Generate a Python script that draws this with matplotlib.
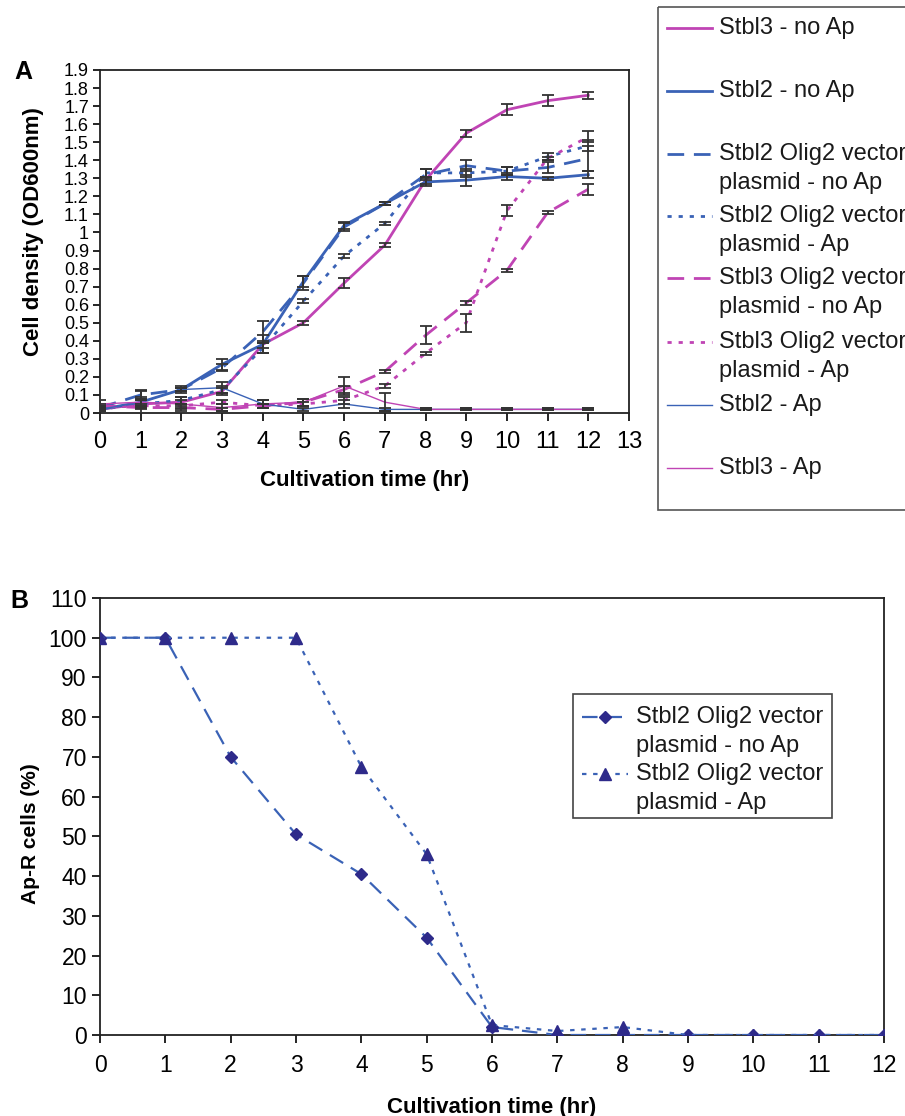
import numpy as np
import matplotlib
matplotlib.use("Agg")
import matplotlib.pyplot as plt
from matplotlib.patches import Rectangle
from matplotlib.lines import Line2D

plt.rcParams['font.family'] = ['Liberation Sans', 'DejaVu Sans']

# ---- data, panel A (OD600 growth curves) ----
hours = list(range(13))

stbl3_noap = [0.02, 0.05, 0.06, 0.12, 0.38, 0.50, 0.72, 0.93, 1.29, 1.55, 1.68, 1.73, 1.76]
stbl3_noap_err = [0.01, 0.02, 0.01, 0.02, 0.02, 0.01, 0.03, 0.01, 0.02, 0.02, 0.03, 0.03, 0.02]

stbl2_noap = [0.02, 0.06, 0.13, 0.27, 0.38, 0.73, 1.04, 1.16, 1.28, 1.29, 1.31, 1.30, 1.32]
stbl2_noap_err = [0.01, 0.02, 0.01, 0.03, 0.05, 0.03, 0.02, 0.01, 0.02, 0.03, 0.02, 0.01, 0.02]

stbl2_vec_noap = [0.03, 0.10, 0.13, 0.25, 0.45, 0.72, 1.03, 1.16, 1.32, 1.37, 1.34, 1.36, 1.41]
stbl2_vec_noap_err = [0.01, 0.02, 0.01, 0.02, 0.06, 0.04, 0.02, 0.01, 0.03, 0.03, 0.02, 0.03, 0.07]

stbl2_vec_ap = [0.02, 0.05, 0.07, 0.13, 0.36, 0.62, 0.87, 1.05, 1.33, 1.33, 1.34, 1.42, 1.48]
stbl2_vec_ap_err = [0.01, 0.02, 0.02, 0.02, 0.03, 0.01, 0.01, 0.01, 0.02, 0.02, 0.02, 0.02, 0.03]

stbl3_vec_noap = [0.04, 0.03, 0.03, 0.02, 0.04, 0.06, 0.13, 0.23, 0.43, 0.61, 0.79, 1.11, 1.24]
stbl3_vec_noap_err = [0.01, 0.01, 0.01, 0.01, 0.01, 0.02, 0.02, 0.01, 0.05, 0.01, 0.01, 0.01, 0.03]

stbl3_vec_ap = [0.03, 0.04, 0.04, 0.06, 0.04, 0.05, 0.07, 0.15, 0.33, 0.50, 1.12, 1.41, 1.53]
stbl3_vec_ap_err = [0.01, 0.01, 0.01, 0.01, 0.01, 0.01, 0.02, 0.01, 0.01, 0.05, 0.03, 0.01, 0.03]

stbl2_ap = [0.02, 0.06, 0.13, 0.14, 0.05, 0.02, 0.05, 0.02, 0.02, 0.02, 0.02, 0.02, 0.02]
stbl2_ap_err = [0.01, 0.03, 0.02, 0.03, 0.02, 0.01, 0.02, 0.01, 0.005, 0.005, 0.005, 0.005, 0.005]

stbl3_ap = [0.05, 0.06, 0.05, 0.03, 0.05, 0.06, 0.15, 0.06, 0.02, 0.02, 0.02, 0.02, 0.02]
stbl3_ap_err = [0.02, 0.07, 0.04, 0.02, 0.02, 0.02, 0.05, 0.05, 0.005, 0.005, 0.005, 0.005, 0.005]

# ---- data, panel B (Ap-R cells) ----
hours_b = list(range(13))
apr_noap = [100, 100, 70, 50.5, 40.5, 24.5, 2, 0, 0, 0, 0, 0, 0]
apr_ap = [100, 100, 100, 100, 67.5, 45.5, 2.5, 1, 2, 0, 0, 0, 0]

MAG = '#c044b4'
BLU = '#3a62b6'
NAVY = '#2e2a8a'
EBC = '#333333'
TXT = '#1a1a1a'

series_a = [
    ("Stbl3 - no Ap", stbl3_noap, stbl3_noap_err, dict(color=MAG, lw=2.0, ls='-')),
    ("Stbl2 - no Ap", stbl2_noap, stbl2_noap_err, dict(color=BLU, lw=2.0, ls='-')),
    ("Stbl2 Olig2 vector\nplasmid - no Ap", stbl2_vec_noap, stbl2_vec_noap_err,
     dict(color=BLU, lw=2.0, ls=(0, (6, 3.5)))),
    ("Stbl2 Olig2 vector\nplasmid - Ap", stbl2_vec_ap, stbl2_vec_ap_err,
     dict(color=BLU, lw=2.0, ls=(0, (1.5, 2.5)))),
    ("Stbl3 Olig2 vector\nplasmid - no Ap", stbl3_vec_noap, stbl3_vec_noap_err,
     dict(color=MAG, lw=2.0, ls=(0, (6, 3.5)))),
    ("Stbl3 Olig2 vector\nplasmid - Ap", stbl3_vec_ap, stbl3_vec_ap_err,
     dict(color=MAG, lw=2.0, ls=(0, (1.5, 2.5)))),
    ("Stbl2 - Ap", stbl2_ap, stbl2_ap_err, dict(color=BLU, lw=1.0, ls='-')),
    ("Stbl3 - Ap", stbl3_ap, stbl3_ap_err, dict(color=MAG, lw=1.0, ls='-')),
]

fig = plt.figure(figsize=(9.05, 11.16), dpi=100)

# overlay in pixel coords for legends/letters
ov = fig.add_axes([0, 0, 1, 1], zorder=5)
ov.set_xlim(0, 905)
ov.set_ylim(1116, 0)
ov.axis('off')
ov.patch.set_alpha(0)


def legend_label(x, y, lab):
    for i, line in enumerate(lab.split('\n')):
        ov.text(x, y + i * 29, line, fontsize=17, va='center', ha='left', color=TXT)


# ---------- panel A ----------
axA = fig.add_axes([100/905, 1-413/1116, 529/905, 343/1116])
for lab, y, e, st in series_a:
    axA.plot(hours, y, **st, zorder=3)
    axA.errorbar(hours, y, yerr=e, fmt='none', ecolor=EBC, elinewidth=1.3,
                 capsize=4.5, capthick=1.3, zorder=4)
axA.set_xlim(0, 13)
axA.set_ylim(0, 1.9)
axA.set_xticks(range(14))
yt = np.round(np.arange(0, 1.91, 0.1), 1)
axA.set_yticks(yt)
axA.set_yticklabels(['%g' % v for v in yt], fontsize=13)
axA.tick_params(axis='x', labelsize=17, length=6, width=1.2, direction='out', pad=7)
axA.tick_params(axis='y', length=5, width=1.2, direction='out', pad=3)
for s in axA.spines.values():
    s.set_color('#222222')
    s.set_linewidth(1.3)
axA.set_xlabel("Cultivation time (hr)", fontsize=16, fontweight='bold', labelpad=12)
axA.set_ylabel("Cell density (OD600nm)", fontsize=16, fontweight='bold')
axA.yaxis.set_label_coords(-0.105, 0.53)

# legend A
ov.add_patch(Rectangle((658, 7), 300, 503, fill=False, ec='#555555', lw=1.2))
rows = [28, 91, 154, 216, 278, 342, 405, 468]
for (lab, y, e, st), ry in zip(series_a, rows):
    ov.add_line(Line2D([667, 712], [ry, ry], **st))
    legend_label(719, ry, lab)

ov.text(14, 72, "A", fontsize=18, fontweight='bold', va='center')
ov.text(10, 601, "B", fontsize=18, fontweight='bold', va='center')

# ---------- panel B ----------
axB = fig.add_axes([100/905, 1-1035/1116, 784/905, 437/1116])
stB1 = dict(color=BLU, lw=1.6, ls=(0, (7, 4)))
stB2 = dict(color=BLU, lw=1.6, ls=(0, (2, 3)))
axB.plot(hours_b, apr_noap, **stB1, marker='D', ms=6, mfc=NAVY, mec=NAVY, zorder=3)
axB.plot(hours_b, apr_ap, **stB2, marker='^', ms=8, mfc=NAVY, mec=NAVY, zorder=3)
axB.set_xlim(0, 12)
axB.set_ylim(0, 110)
axB.set_xticks(range(13))
axB.set_yticks(range(0, 111, 10))
axB.tick_params(axis='both', labelsize=16.5, length=6, width=1.2, direction='out')
axB.tick_params(axis='x', pad=8)
for s in axB.spines.values():
    s.set_color('#222222')
    s.set_linewidth(1.3)
axB.set_xlabel("Cultivation time (hr)", fontsize=16, fontweight='bold', labelpad=14)
axB.set_ylabel("Ap-R cells (%)", fontsize=15, fontweight='bold')
axB.yaxis.set_label_coords(-0.076, 0.46)

# legend B
ov.add_patch(Rectangle((573, 694), 259, 124, fill=False, ec='#444444', lw=1.2))
for st, mk, ms, ry, lab in [(stB1, 'D', 6, 717, "Stbl2 Olig2 vector\nplasmid - no Ap"),
                            (stB2, '^', 8, 774, "Stbl2 Olig2 vector\nplasmid - Ap")]:
    ov.add_line(Line2D([582, 628], [ry, ry], **st))
    ov.add_line(Line2D([605], [ry], marker=mk, ms=ms, mfc=NAVY, mec=NAVY, ls='none'))
    legend_label(636, ry, lab)

fig.savefig("out.png", dpi=100)
